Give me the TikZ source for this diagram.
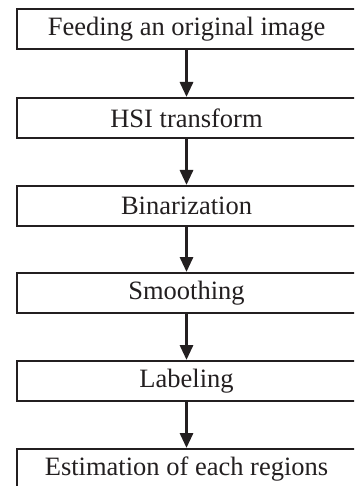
\documentclass[tikz,border=0pt]{standalone}
\usepackage{fontspec}
\setmainfont{Liberation Serif}
\usetikzlibrary{arrows.meta}
\definecolor{ink}{HTML}{231F20}
\begin{document}
\begin{tikzpicture}[x=1pt,y=-1pt,
  stepbox/.style={draw=ink,line width=2pt,minimum width=339pt,minimum height=40pt,inner sep=0pt,font=\fontsize{26.5}{26.5}\selectfont,text=ink},
  flow/.style={draw=ink,line width=3pt,-{Triangle[width=13pt,length=15pt]}}]
\useasboundingbox (0,0) rectangle (354,486);
\clip (0,0) rectangle (354,486);
\node[stepbox] (n1) at (186.5,29.5) {Feeding an original image};
\node[stepbox] (n2) at (186.5,118) {HSI transform};
\node[stepbox] (n3) at (186.5,206) {Binarization};
\node[stepbox] (n4) at (186.5,293) {Smoothing};
\node[stepbox] (n5) at (186.5,381) {Labeling};
\node[stepbox] (n6) at (186.5,469) {Estimation of each regions};
\draw[flow] (n1.south) -- (n2.north);
\draw[flow] (n2.south) -- (n3.north);
\draw[flow] (n3.south) -- (n4.north);
\draw[flow] (n4.south) -- (n5.north);
\draw[flow] (n5.south) -- (n6.north);
\end{tikzpicture}
\end{document}
